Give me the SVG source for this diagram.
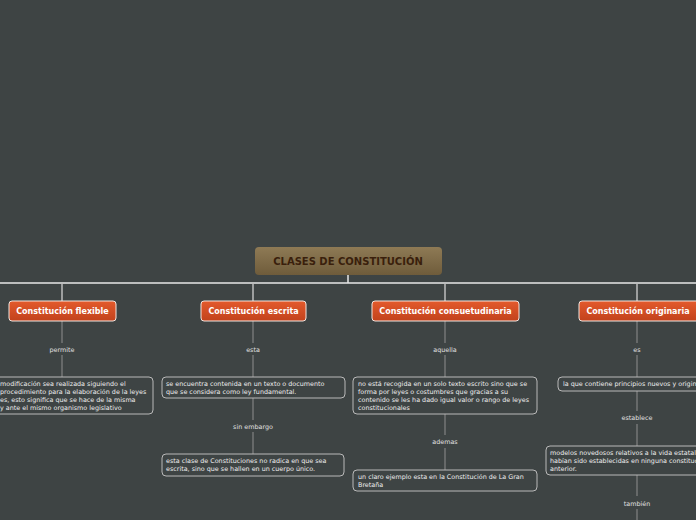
<svg xmlns="http://www.w3.org/2000/svg" width="696" height="520" viewBox="0 0 696 520">
<defs>
<linearGradient id="gr" x1="0" y1="0" x2="0" y2="1"><stop offset="0" stop-color="#8e7a55"/><stop offset="1" stop-color="#6f5c3b"/></linearGradient>
<linearGradient id="go" x1="0" y1="0" x2="0" y2="1"><stop offset="0" stop-color="#e35a2c"/><stop offset="1" stop-color="#c2421c"/></linearGradient>
<style>
text{font-family:"DejaVu Sans",sans-serif}
.t{fill:#fff;font-size:8px;font-weight:bold;text-anchor:middle}
.b{fill:url(#go);stroke:#f2e6e0;stroke-width:1}
.c{fill:none;stroke:#b9b9b9;stroke-width:1}
.x{fill:#eee;font-size:6.4px}
.l{fill:#e0e0e0;font-size:6.4px;text-anchor:middle}
.k{stroke:#8e8e8e;stroke-width:1;fill:none}
</style>
</defs>
<rect width="696" height="520" fill="#3e4444"/>
<g id="connectors">
<path d="M348 275V283M0 283H696" stroke="#e6e6e6" stroke-width="1.5" fill="none"/>
<path d="M62 283V301M253 283V301M445 283V301M637 283V301" stroke="#bdbdbd" stroke-width="1.5" fill="none"/>
<path class="k" d="M62 321V343M62 355V377M253 321V343M253 355V377M253 398V420M253 432V454M445 321V343M445 355V377M445 414V435M445 448V470M637 321V343M637 355V377M637 391V411M637 424V446M637 475V496M637 509V520"/>
</g>
<g id="root"><rect x="255" y="247" width="187" height="28" rx="4" fill="url(#gr)"/><text x="348" y="265" text-anchor="middle" font-size="10" font-weight="bold" fill="#3a1f0c">CLASES DE CONSTITUCIÓN</text></g>
<g id="flexible"><rect class="b" x="9" y="301" width="107" height="20" rx="3"/><text class="t" x="62.5" y="314">Constitución flexible</text></g>
<g id="escrita"><rect class="b" x="201" y="301" width="105" height="20" rx="3"/><text class="t" x="253.5" y="314">Constitución escrita</text></g>
<g id="consuetudinaria"><rect class="b" x="372" y="301" width="147" height="20" rx="3"/><text class="t" x="445.5" y="314">Constitución consuetudinaria</text></g>
<g id="originaria"><rect class="b" x="579" y="301" width="120" height="20" rx="3"/><text class="t" x="638" y="314">Constitución originaria</text></g>
<g id="l1"><text class="l" x="62" y="352">permite</text></g>
<g id="l2"><text class="l" x="253" y="352">esta</text></g>
<g id="l3"><text class="l" x="253" y="429">sin embargo</text></g>
<g id="l4"><text class="l" x="445" y="352">aquella</text></g>
<g id="l5"><text class="l" x="445" y="444">ademas</text></g>
<g id="l6"><text class="l" x="637" y="352">es</text></g>
<g id="l7"><text class="l" x="637" y="420">establece</text></g>
<g id="l8"><text class="l" x="637" y="506">también</text></g>
<g id="n1"><rect class="c" x="-10" y="377" width="163" height="37" rx="4"/><text class="x" x="0" y="386">modificación sea realizada siguiendo el<tspan x="0" dy="8">procedimiento para la elaboración de la leyes</tspan><tspan x="0" dy="8">es, esto significa que se hace de la misma</tspan><tspan x="0" dy="8">y ante el mismo organismo legislativo</tspan></text></g>
<g id="n2"><rect class="c" x="162" y="377" width="183" height="21" rx="4"/><text class="x" x="166" y="386">se encuentra contenida en un texto o documento<tspan x="166" dy="8">que se considera como ley fundamental.</tspan></text></g>
<g id="n3"><rect class="c" x="162" y="454" width="182" height="22" rx="4"/><text class="x" x="166" y="463">esta clase de Constituciones no radica en que sea<tspan x="166" dy="8">escrita, sino que se hallen en un cuerpo único.</tspan></text></g>
<g id="n4"><rect class="c" x="353" y="377" width="184" height="37" rx="4"/><text class="x" x="358" y="386">no está recogida en un solo texto escrito sino que se<tspan x="358" dy="8">forma por leyes o costumbres que gracias a su</tspan><tspan x="358" dy="8">contenido se les ha dado igual valor o rango de leyes</tspan><tspan x="358" dy="8">constitucionales</tspan></text></g>
<g id="n5"><rect class="c" x="353" y="470" width="184" height="21" rx="4"/><text class="x" x="358" y="479">un claro ejemplo esta en la Constitución de La Gran<tspan x="358" dy="8">Bretaña</tspan></text></g>
<g id="n6"><rect class="c" x="558" y="377" width="150" height="14" rx="4"/><text class="x" x="563" y="386">la que contiene principios nuevos y originales</text></g>
<g id="n7"><rect class="c" x="546" y="446" width="160" height="29" rx="4"/><text class="x" x="550" y="455">modelos novedosos relativos a la vida estatal que no<tspan x="550" dy="8">habían sido establecidas en ninguna constitución</tspan><tspan x="550" dy="8">anterior.</tspan></text></g>
</svg>
